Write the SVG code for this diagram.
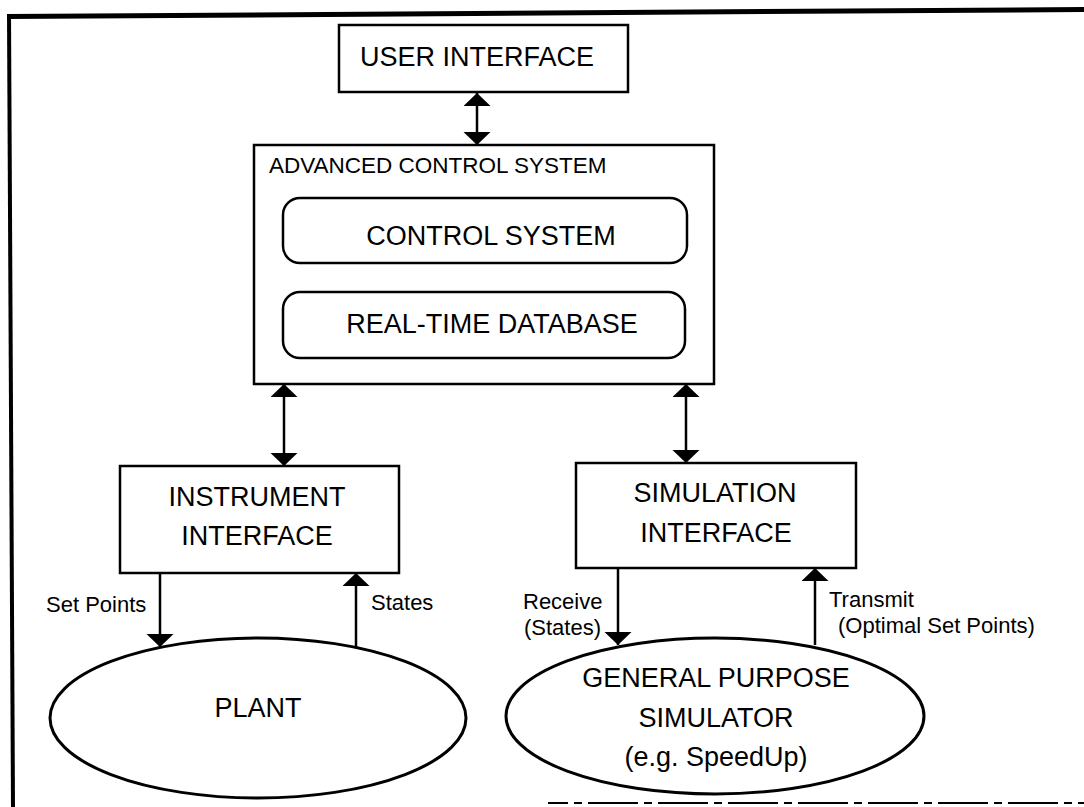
<svg xmlns="http://www.w3.org/2000/svg" width="1084" height="807" viewBox="0 0 1084 807">
<defs>
<style>
.box{fill:#fff;stroke:#000;stroke-width:2.5}
.ell{fill:#fff;stroke:#000;stroke-width:3}
.t{font-family:"Liberation Sans",Arial,sans-serif;fill:#000;text-anchor:middle}
.big{font-size:27px}
.lbl{font-family:"Liberation Sans",Arial,sans-serif;fill:#000;font-size:22px}
.c{fill:none;stroke:#000;stroke-width:2.5}
</style>
<marker id="ah" markerUnits="userSpaceOnUse" markerWidth="15" markerHeight="28" refX="13" refY="13.5" orient="auto-start-reverse">
<path d="M0,0 L13,13.5 L0,27 Z" fill="#000"/>
</marker>
</defs>
<rect width="1084" height="807" fill="#fff"/>
<g id="frame">
<polygon points="7,14 1084,7 1084,12 7,19" fill="#000"/>
<polygon points="7,14 11,14 15,807 11,807" fill="#000"/>
<line x1="548" y1="803" x2="1084" y2="803" stroke="#000" stroke-width="2" stroke-dasharray="20 6 8 6 30 0"/>
</g>
<g id="user-interface">
<rect class="box" x="339" y="25" width="289" height="67"/>
<text class="t big" x="477" y="66">USER INTERFACE</text>
</g>
<g id="advanced-control-system">
<rect class="box" x="254" y="145" width="460" height="239"/>
<text class="lbl" x="269" y="173" style="font-size:22.5px">ADVANCED CONTROL SYSTEM</text>
</g>
<g id="control-system">
<rect class="box" x="283" y="198" width="404" height="65" rx="17"/>
<text class="t big" x="491" y="245">CONTROL SYSTEM</text>
</g>
<g id="real-time-database">
<rect class="box" x="283" y="292" width="402" height="66" rx="17"/>
<text class="t big" x="492" y="333">REAL-TIME DATABASE</text>
</g>
<g id="instrument-interface">
<rect class="box" x="120" y="466" width="279" height="107"/>
<text class="t big" x="257" y="506">INSTRUMENT</text>
<text class="t big" x="257" y="545">INTERFACE</text>
</g>
<g id="simulation-interface">
<rect class="box" x="576" y="463" width="280" height="105"/>
<text class="t big" x="715" y="502">SIMULATION</text>
<text class="t big" x="716" y="542">INTERFACE</text>
</g>
<g id="plant">
<ellipse class="ell" cx="258" cy="718" rx="208" ry="80"/>
<text class="t big" x="258" y="717">PLANT</text>
</g>
<g id="simulator">
<ellipse class="ell" cx="715" cy="716" rx="209" ry="78"/>
<text class="t big" x="716" y="687">GENERAL PURPOSE</text>
<text class="t big" x="716" y="727">SIMULATOR</text>
<text class="t big" x="716" y="766">(e.g. SpeedUp)</text>
</g>
<g id="connectors">
<line class="c" x1="477" y1="93" x2="477" y2="145" marker-start="url(#ah)" marker-end="url(#ah)"/>
<line class="c" x1="284" y1="384" x2="284" y2="466" marker-start="url(#ah)" marker-end="url(#ah)"/>
<line class="c" x1="686" y1="384" x2="686" y2="463" marker-start="url(#ah)" marker-end="url(#ah)"/>
<line class="c" x1="160" y1="573" x2="160" y2="647" marker-end="url(#ah)"/>
<line class="c" x1="356" y1="647" x2="356" y2="573" marker-end="url(#ah)"/>
<line class="c" x1="618" y1="568" x2="618" y2="645" marker-end="url(#ah)"/>
<line class="c" x1="815" y1="645" x2="815" y2="568" marker-end="url(#ah)"/>
<text class="lbl" x="46" y="612">Set Points</text>
<text class="lbl" x="371" y="610">States</text>
<text class="lbl" x="523" y="609">Receive</text>
<text class="lbl" x="524" y="635">(States)</text>
<text class="lbl" x="829" y="607">Transmit</text>
<text class="lbl" x="838" y="633">(Optimal Set Points)</text>
</g>
</svg>
